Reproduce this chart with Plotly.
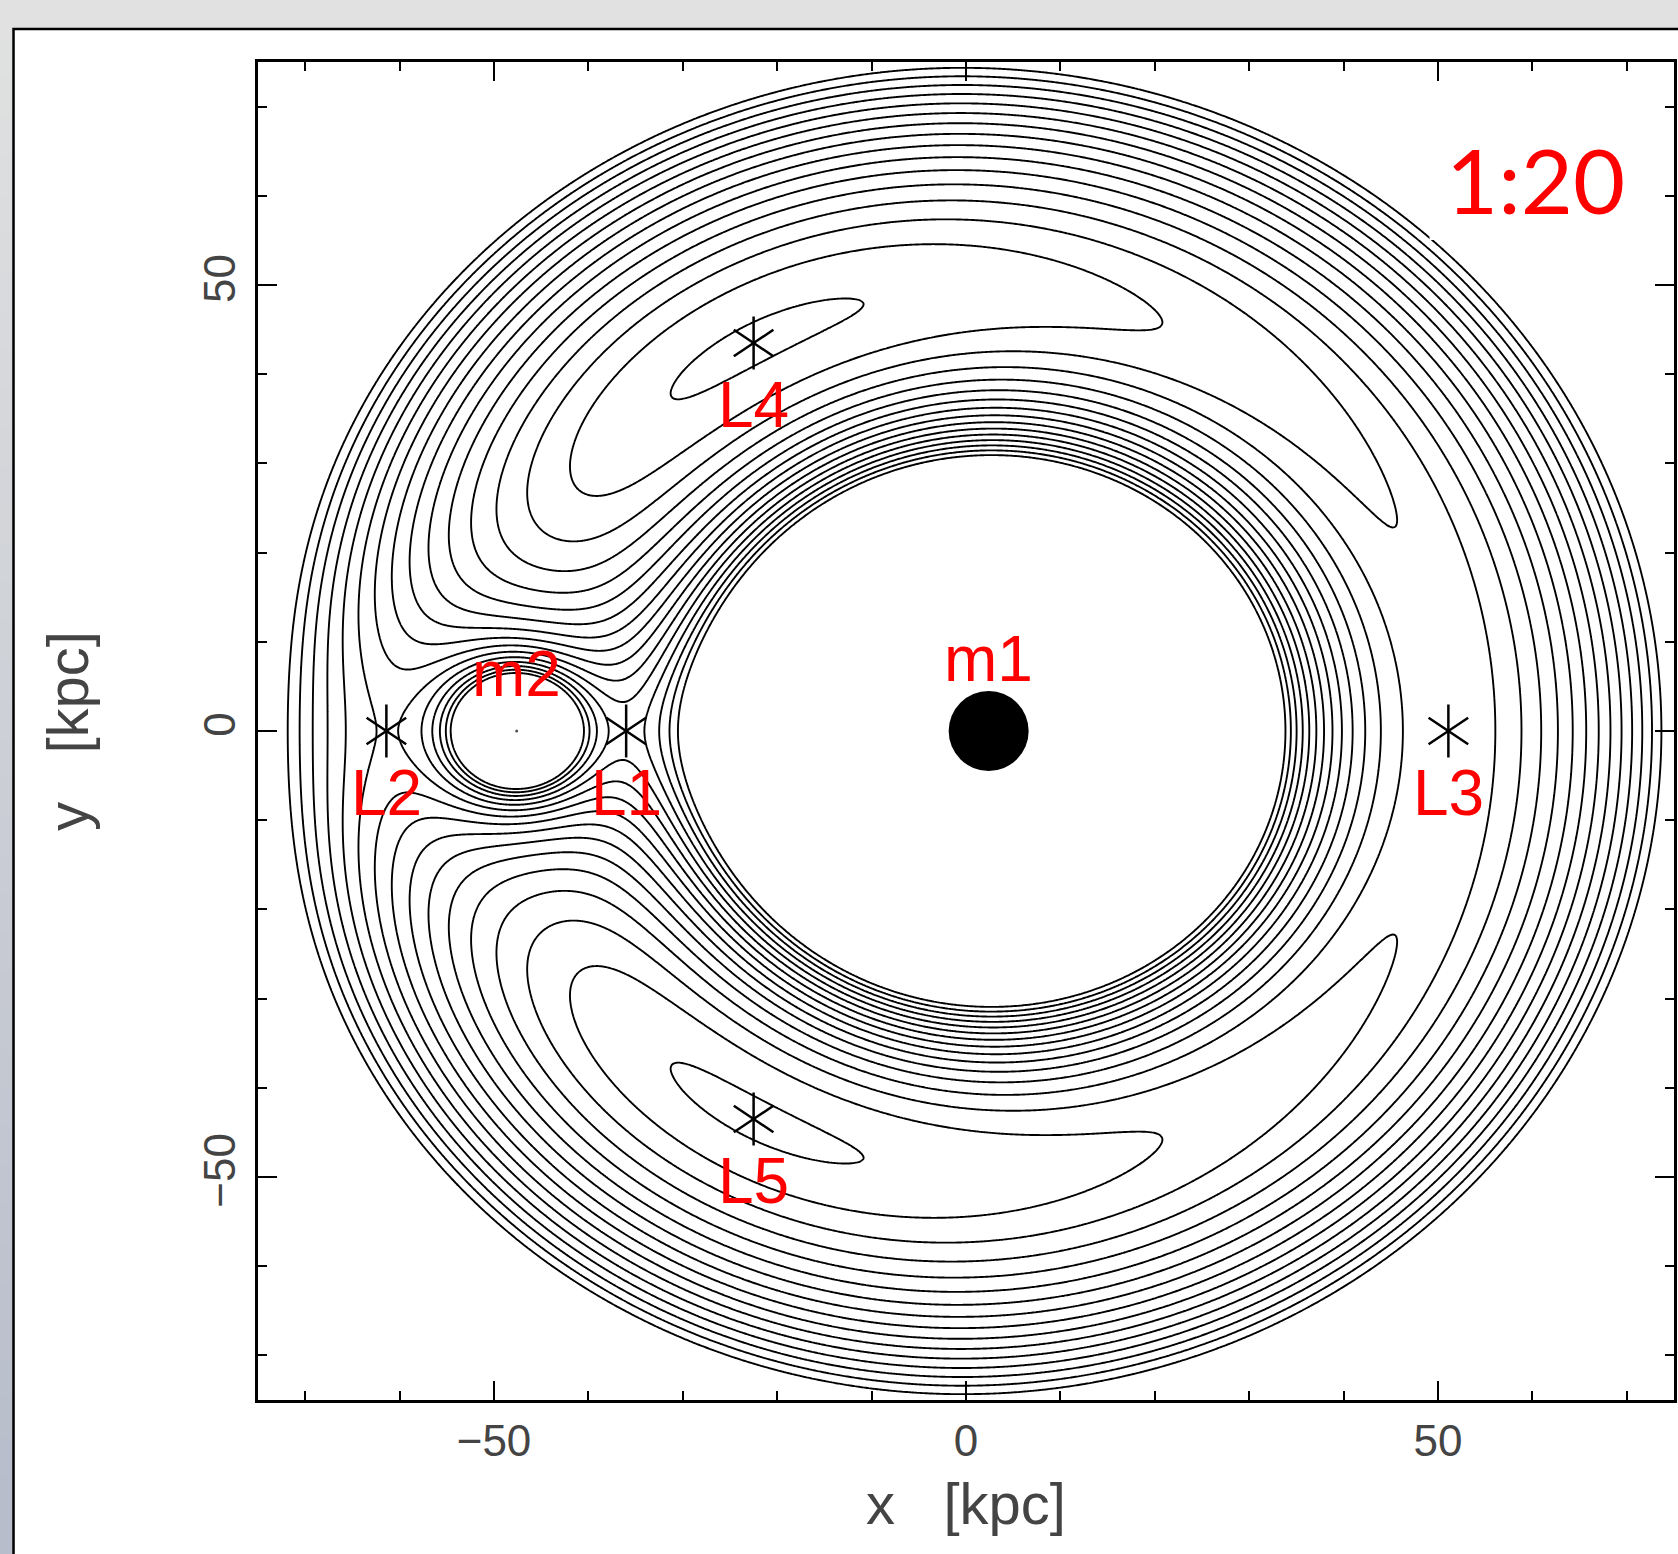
import numpy as np
import plotly.graph_objects as go

# ---------------- values ----------------
MASS_RATIO_LABEL = "1:20"
MASS_RATIO = [20, 1]                 # m1 : m2
BODY_NAMES = ["m1", "m2"]
BODY_X = [2.4, -47.6]                # kpc
BODY_Y = [0.0, 0.0]
LAGRANGE_NAMES = ["L1", "L2", "L3", "L4", "L5"]
LAGRANGE_X = [-36.0, -61.4, 51.1, -22.5, -22.5]
LAGRANGE_Y = [0.0, 0.0, 0.0, 43.5, -43.5]
# contour levels of the effective potential (units of G*M_total/separation)
LEVEL_START = -1.7726
LEVEL_STEP = 0.0195
LEVEL_COUNT = 16
AXIS_RANGE = [-75, 75]
MAJOR_STEP = 50
MINOR_STEP = 10

# ---------------- effective potential grid ----------------
mu = MASS_RATIO[1] / sum(MASS_RATIO)
sep = BODY_X[0] - BODY_X[1]
com = (1 - mu) * BODY_X[0] + mu * BODY_X[1]

def seg(a, b, step):
    return np.arange(a, b, step)

xg = np.unique(np.round(np.concatenate([
    seg(-75, -60, 0.3), seg(-60, -34, 0.1), seg(-34, 75.01, 0.3), [75.0]]), 4))
yg = np.unique(np.round(np.concatenate([
    seg(-75, -12, 0.3), seg(-12, 12, 0.1), seg(12, 75.01, 0.3), [75.0]]), 4))
X, Y = np.meshgrid(xg, yg)
r1 = np.hypot(X - BODY_X[0], Y - BODY_Y[0]) / sep
r2 = np.hypot(X - BODY_X[1], Y - BODY_Y[1]) / sep
r1 = np.maximum(r1, 1e-3)
r2 = np.maximum(r2, 1e-3)
phi = -(1 - mu) / r1 - mu / r2 - 0.5 * ((X - com) ** 2 + Y ** 2) / sep ** 2
phi = np.clip(phi, -3, 0).astype(np.float32)

W, H = 1678, 1554
ML, MR, MT, MB = 258, 1, 62, 154
PW, PH = W - ML - MR, H - MT - MB

def px(p):
    return (p - ML) / PW

def py(p):
    return (H - MB - p) / PH

fig = go.Figure()
fig.add_trace(go.Contour(
    x=xg, y=yg, z=phi,
    autocontour=False,
    contours=dict(coloring="lines", start=LEVEL_START,
                  end=LEVEL_START + LEVEL_STEP * (LEVEL_COUNT - 1) + 1e-4,
                  size=LEVEL_STEP),
    colorscale=[[0, "black"], [1, "black"]],
    showscale=False,
    line=dict(width=1.9, smoothing=0.6),
    hoverinfo="skip",
))

# bodies
fig.add_trace(go.Scatter(x=[BODY_X[0]], y=[BODY_Y[0]], mode="markers",
                         marker=dict(size=80, color="black"), hoverinfo="skip"))
fig.add_trace(go.Scatter(x=[BODY_X[1]], y=[BODY_Y[1]], mode="markers",
                         marker=dict(size=3, color="#555"), hoverinfo="skip"))
# Lagrange asterisks
for sym in ["y-up-open", "y-down-open"]:
    fig.add_trace(go.Scatter(
        x=LAGRANGE_X, y=LAGRANGE_Y, mode="markers",
        marker=dict(symbol=sym, size=33, color="black",
                    line=dict(width=2.5, color="black")),
        hoverinfo="skip"))

annotations = []
red_font = dict(family="Liberation Sans", size=64, color="#ff0000")
for name, x, y in zip(LAGRANGE_NAMES, LAGRANGE_X, LAGRANGE_Y):
    annotations.append(dict(x=x, y=y, xref="x", yref="y", text=name,
                            showarrow=False, yshift=-62, font=red_font))
for name, x, y, ys in zip(BODY_NAMES, BODY_X, BODY_Y, [72, 57]):
    annotations.append(dict(x=x, y=y, xref="x", yref="y", text=name,
                            showarrow=False, yshift=ys, font=red_font))
annotations.append(dict(x=px(1538), y=py(179), xref="paper", yref="paper",
                        xanchor="center", yanchor="middle",
                        text=MASS_RATIO_LABEL, showarrow=False,
                        font=dict(family="Lato", size=90, color="#ff0000")))

shapes = []
# left strip gradient of the slide background
n_bands = 40
c_top = np.array([225, 225, 225])
c_bot = np.array([183, 189, 203])
for i in range(n_bands):
    t = i / (n_bands - 1)
    c = (c_top * (1 - t) + c_bot * t).astype(int)
    shapes.append(dict(type="rect", xref="paper", yref="paper", layer="below",
                       x0=px(-2), x1=px(13),
                       y0=py(H * (i + 1) / n_bands + 1), y1=py(H * i / n_bands),
                       fillcolor=f"rgb({c[0]},{c[1]},{c[2]})", line=dict(width=0)))
# white panel with black frame
shapes.append(dict(type="rect", xref="paper", yref="paper", layer="below",
                   x0=px(13), x1=px(W + 10), y0=py(H + 10), y1=py(29),
                   fillcolor="white", line=dict(color="black", width=2.5)))
# white box behind the ratio label
shapes.append(dict(type="rect", xref="paper", yref="paper", layer="above",
                   x0=px(1432), x1=px(1663), y0=py(240), y1=py(96),
                   fillcolor="white", line=dict(width=0)))

axis_common = dict(
    range=AXIS_RANGE, showgrid=False, zeroline=False,
    showline=True, linecolor="black", linewidth=2.5, mirror="allticks",
    ticks="inside", ticklen=19, tickwidth=2, tickcolor="black",
    tick0=0, dtick=MAJOR_STEP,
    minor=dict(ticks="inside", dtick=MINOR_STEP, ticklen=9, tickwidth=2,
               tickcolor="black", showgrid=False),
    tickfont=dict(family="Liberation Sans", size=44, color="#444"),
)

title_font = dict(family="Liberation Sans", size=58, color="#444")
fig.update_layout(
    width=W, height=H,
    margin=dict(l=ML, r=MR, t=MT, b=MB, pad=0),
    paper_bgcolor="#e1e1e1", plot_bgcolor="white",
    showlegend=False,
    xaxis=dict(**axis_common, ticklabelstandoff=0,
               title=dict(text="x   [kpc]", standoff=20, font=title_font)),
    yaxis=dict(**axis_common, tickangle=-90, ticklabelstandoff=3,
               title=dict(text="y   [kpc]", standoff=88, font=title_font)),
    annotations=annotations,
    shapes=shapes,
)

fig.write_html("out.html", include_plotlyjs=True,
               config={"displayModeBar": False},
               post_script="document.body.style.margin='0';document.body.style.overflow='hidden';")
